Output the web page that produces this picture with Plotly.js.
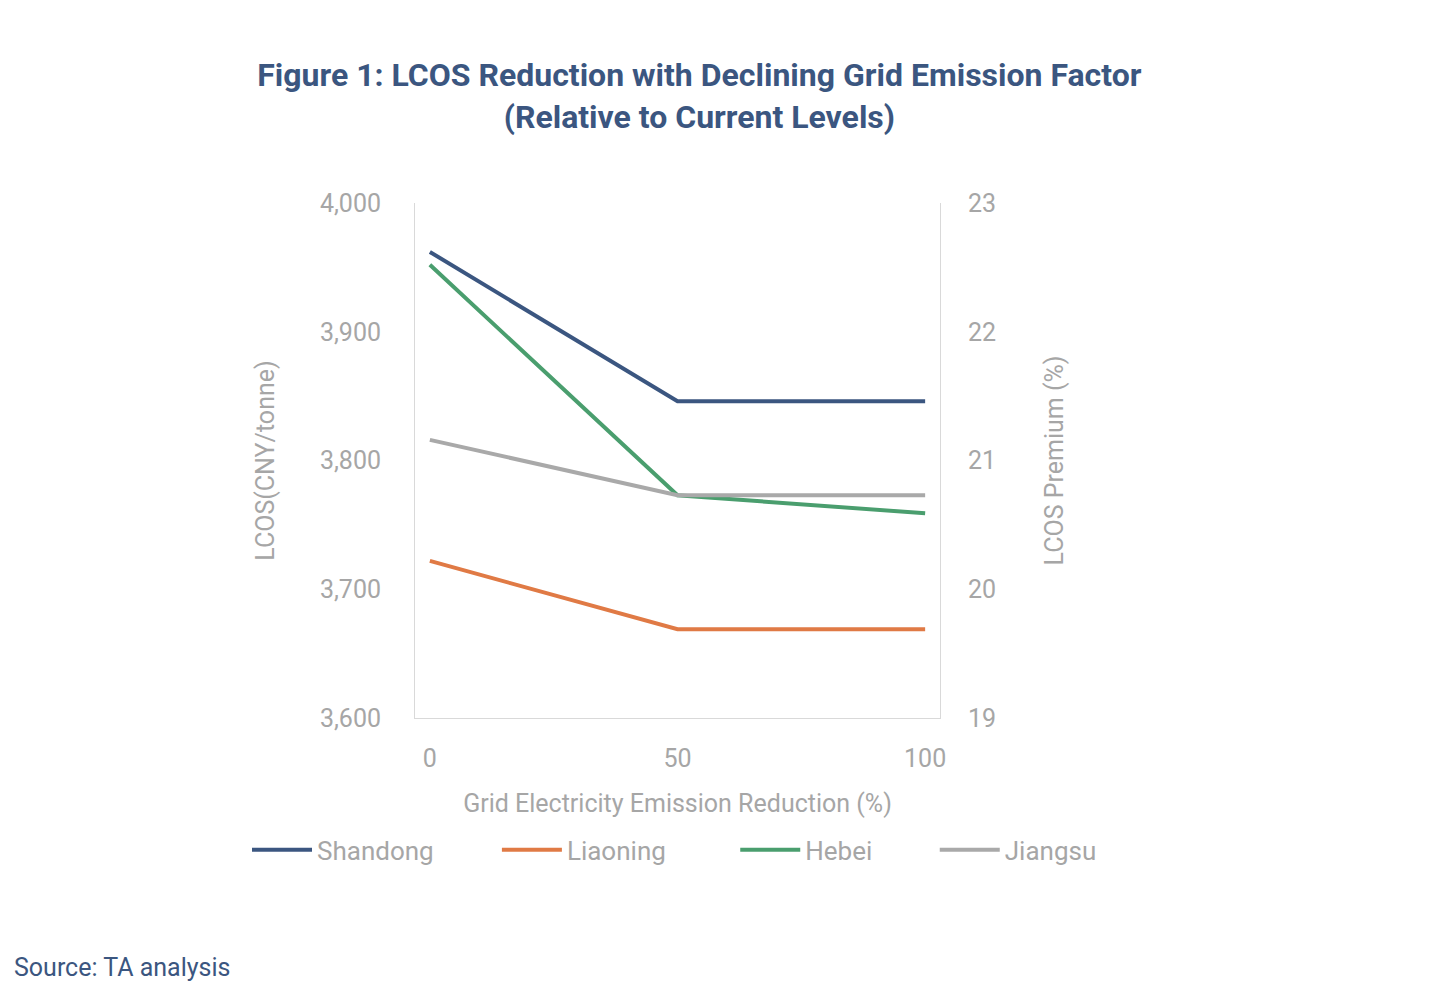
<!DOCTYPE html>
<html>
<head>
<meta charset="utf-8">
<script src="https://cdn.plot.ly/plotly-3.0.1.min.js"></script>
<style>body{margin:0;background:#fff}#chart{width:1442px;height:994px}</style>
</head>
<body>
<div id="chart"></div>
<script>
// Grid emission reduction (%) and LCOS values (CNY/tonne)
var reduction = [0, 50, 100];
var shandong = [3962, 3846, 3846];
var liaoning = [3722, 3669, 3669];
var hebei = [3952, 3773, 3759];
var jiangsu = [3816, 3773, 3773];

var names = ['Shandong', 'Liaoning', 'Hebei', 'Jiangsu'];
var series = [shandong, liaoning, hebei, jiangsu];
var colors = ['#3b5680', '#e07a45', '#4a9e6e', '#a9a9a9'];
var legendIds = ['legend', 'legend2', 'legend3', 'legend4'];
var legendX = [-0.32, 0.156, 0.61, 0.99];

var traces = series.map(function (s, i) {
    return {
        x: reduction, y: s, name: names[i], type: 'scatter', mode: 'lines',
        line: {color: colors[i], width: 4}, legend: legendIds[i]
    };
});
// invisible trace to show the right-hand axis
traces.push({x: [0], y: [19], yaxis: 'y2', showlegend: false, hoverinfo: 'skip',
    mode: 'markers', marker: {opacity: 0}});

var grey = '#a6a6a6';
var layout = {
    width: 1442, height: 994,
    margin: {l: 415, r: 502, t: 203, b: 276},
    paper_bgcolor: '#fff', plot_bgcolor: '#fff',
    font: {family: 'Roboto, sans-serif', color: grey, size: 25},
    title: {
        text: '<b>Figure 1: LCOS Reduction with Declining Grid Emission Factor<br>(Relative to Current Levels)</b>',
        font: {size: 32, color: '#3b5680'}, x: 0.485, xanchor: 'center', y: 0.913, yanchor: 'middle'
    },
    xaxis: {
        range: [-3, 103], tickvals: reduction, showgrid: false, zeroline: false,
        showline: true, linecolor: '#d9d9d9', ticks: '', ticklabelstandoff: 18,
        title: {text: 'Grid Electricity Emission Reduction (%)', font: {size: 25, color: grey}, standoff: 22}
    },
    yaxis: {
        range: [3600, 4000], dtick: 100, tickformat: ',', showgrid: false, zeroline: false,
        showline: true, linecolor: '#d9d9d9', ticks: '', ticklabelstandoff: 28,
        title: {text: 'LCOS(CNY/tonne)', font: {size: 25, color: grey}, standoff: 38}
    },
    yaxis2: {
        overlaying: 'y', side: 'right', range: [19, 23], dtick: 1, showgrid: false,
        zeroline: false, showline: true, linecolor: '#d9d9d9', ticks: '', ticklabelstandoff: 22,
        title: {text: 'LCOS Premium (%)', font: {size: 25, color: grey}, standoff: 50}
    },
    showlegend: true,
    annotations: [{text: 'Source: TA analysis', xref: 'paper', yref: 'paper',
        x: -0.767, y: -0.485, xanchor: 'left', yanchor: 'middle', showarrow: false,
        font: {size: 25, color: '#3b5680'}}]
};
legendIds.forEach(function (id, i) {
    layout[id] = {x: legendX[i], xanchor: 'left', y: -0.256, yanchor: 'middle',
        orientation: 'h', font: {size: 26, color: grey}, itemwidth: 60,
        bgcolor: 'rgba(0,0,0,0)'};
});

Plotly.newPlot('chart', traces, layout, {displayModeBar: false});
</script>
</body>
</html>
